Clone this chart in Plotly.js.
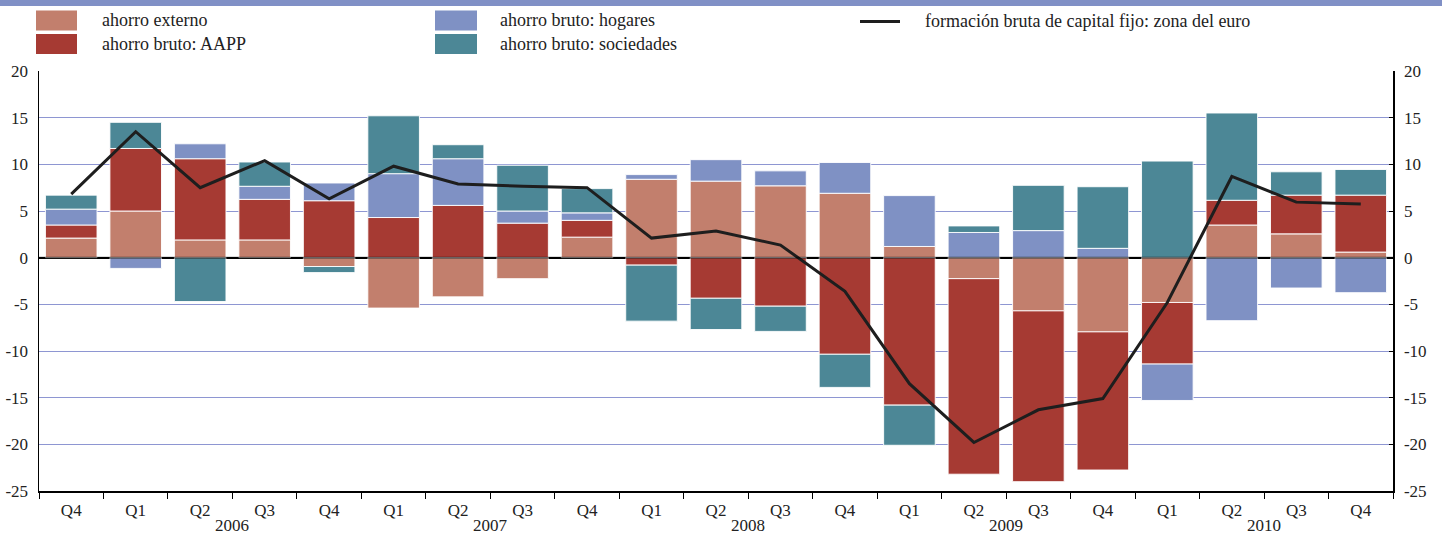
<!DOCTYPE html>
<html>
<head>
<meta charset="utf-8">
<script src="https://cdn.plot.ly/plotly-3.0.1.min.js"></script>
<style>html,body{margin:0;padding:0;background:#fff;}#chart{width:1442px;height:536px;}</style>
</head>
<body>
<div id="chart"></div>
<script>
// ---- data (percentages) ----
const quarters = ['Q4','Q1','Q2','Q3','Q4','Q1','Q2','Q3','Q4','Q1','Q2','Q3','Q4','Q1','Q2','Q3','Q4','Q1','Q2','Q3','Q4'];
const years = ['2005','2006','2006','2006','2006','2007','2007','2007','2007','2008','2008','2008','2008','2009','2009','2009','2009','2010','2010','2010','2010'];
const yearLabels = ['2006','2007','2008','2009','2010'];

const ahorroExterno = [2.1, 5.0, 1.9, 1.9, -0.95, -5.4, -4.2, -2.25, 2.2, 8.4, 8.2, 7.7, 6.9, 1.2, -2.25, -5.7, -7.95, -4.8, 3.5, 2.55, 0.6];
const ahorroAAPP = [1.4, 6.7, 8.7, 4.35, 6.1, 4.3, 5.6, 3.7, 1.8, -0.8, -4.35, -5.2, -10.35, -15.8, -20.95, -18.3, -14.8, -6.6, 2.65, 4.15, 6.1];
const ahorroHogares = [1.7, -1.15, 1.6, 1.4, 1.9, 4.7, 5.0, 1.3, 0.8, 0.5, 2.3, 1.6, 3.3, 5.45, 2.7, 2.9, 1.0, -3.9, -6.75, -3.25, -3.75];
const ahorroSociedades = [1.5, 2.8, -4.7, 2.6, -0.65, 6.2, 1.5, 4.9, 2.6, -6.0, -3.35, -2.7, -3.55, -4.3, 0.7, 4.85, 6.6, 10.35, 9.35, 2.5, 2.75];
const fbcfZonaEuro = [6.8, 13.5, 7.5, 10.4, 6.3, 9.8, 7.9, 7.65, 7.5, 2.1, 2.85, 1.35, -3.6, -13.5, -19.8, -16.3, -15.1, -4.8, 8.7, 5.95, 5.75];

const yTicks = [20, 15, 10, 5, 0, -5, -10, -15, -20, -25];

// ---- styling ----
const C_EXT = '#C27F6D', C_AAPP = '#A63A33', C_HOG = '#7F91C4', C_SOC = '#4C8796';
const FONT = "'Liberation Serif', 'Times New Roman', serif";
const W = 1442, H = 536;
const M = {l: 39, r: 49, t: 71, b: 45};
const PW = W - M.l - M.r, PH = H - M.t - M.b;
const px = v => (v - M.l) / PW;       // pixel -> paper x
const py = v => (H - M.b - v) / PH;   // pixel -> paper y

const idx = quarters.map((_, i) => i);
const barLine = {color: 'rgba(255,255,255,0.9)', width: 1};

function barTrace(name, values, color) {
  return {type: 'bar', name: name, x: idx, y: values, marker: {color: color, line: barLine},
          showlegend: false, hoverinfo: 'skip'};
}

const traces = [
  barTrace('ahorro externo', ahorroExterno, C_EXT),
  barTrace('ahorro bruto: AAPP', ahorroAAPP, C_AAPP),
  barTrace('ahorro bruto: hogares', ahorroHogares, C_HOG),
  barTrace('ahorro bruto: sociedades', ahorroSociedades, C_SOC),
  {type: 'scatter', mode: 'lines', name: 'formación bruta de capital fijo: zona del euro',
   x: idx, y: fbcfZonaEuro, yaxis: 'y2', line: {color: '#1E1E1E', width: 3},
   showlegend: false, hoverinfo: 'skip'}
];

// year labels under the quarters
const annotations = yearLabels.map(y => {
  const ii = idx.filter(i => years[i] === y);
  const xc = ii.reduce((a, b) => a + b, 0) / ii.length;
  return {x: xc, xref: 'x', y: py(525.5), yref: 'paper', text: y, showarrow: false,
          yanchor: 'middle', xanchor: 'center', font: {family: FONT, size: 17, color: '#222'}};
});

// custom legend (boxes + labels)
const legendItems = [
  {kind: 'box', color: C_EXT, text: 'ahorro externo', x0: 36, x1: 77, yc: 20.5, tx: 100},
  {kind: 'box', color: C_AAPP, text: 'ahorro bruto: AAPP', x0: 36, x1: 77, yc: 44, tx: 100},
  {kind: 'box', color: C_HOG, text: 'ahorro bruto: hogares', x0: 435, x1: 477, yc: 20.5, tx: 498},
  {kind: 'box', color: C_SOC, text: 'ahorro bruto: sociedades', x0: 435, x1: 477, yc: 44, tx: 498},
  {kind: 'line', color: '#1E1E1E', text: 'formación bruta de capital fijo: zona del euro', x0: 860, x1: 900, yc: 21.5, tx: 923}
];
const shapes = [
  // top band
  {type: 'rect', xref: 'paper', yref: 'paper', x0: px(0), x1: px(W), y0: py(6), y1: py(0),
   fillcolor: '#8090C6', line: {width: 0}, layer: 'above'},
  // zero line overlay (darkens across bars)
  {type: 'line', xref: 'paper', yref: 'y', x0: 0, x1: 1, y0: 0, y1: 0,
   line: {color: 'rgba(0,0,0,0.55)', width: 2}, layer: 'above'}
];
legendItems.forEach(it => {
  if (it.kind === 'box') {
    shapes.push({type: 'rect', xref: 'paper', yref: 'paper', x0: px(it.x0), x1: px(it.x1),
                 y0: py(it.yc + 10), y1: py(it.yc - 10), fillcolor: it.color, line: {width: 0}});
  } else {
    shapes.push({type: 'line', xref: 'paper', yref: 'paper', x0: px(it.x0), x1: px(it.x1),
                 y0: py(it.yc), y1: py(it.yc), line: {color: it.color, width: 3}});
  }
  annotations.push({x: px(it.tx), y: py(it.yc), xref: 'paper', yref: 'paper', text: it.text,
                    showarrow: false, xanchor: 'left', yanchor: 'middle',
                    font: {family: FONT, size: 18, color: '#222'}});
});

const boundaries = idx.map(i => i - 0.5).concat([idx.length - 0.5]);

const yCommon = {
  range: [-25, 20], tickmode: 'array', tickvals: yTicks, ticktext: yTicks.map(String),
  tickfont: {family: FONT, size: 17, color: '#222'}, showline: true, linecolor: '#000',
  linewidth: 1.5, fixedrange: true
};

const layout = {
  width: W, height: H,
  margin: M,
  paper_bgcolor: '#fff', plot_bgcolor: '#fff',
  barmode: 'relative', bargap: 0.2,
  font: {family: FONT, size: 17, color: '#222'},
  xaxis: {
    range: [-0.5, 20.5], tickmode: 'array', tickvals: idx, ticktext: quarters,
    ticks: '', showgrid: false, zeroline: false, showline: true, linecolor: '#000', linewidth: 2,
    tickfont: {family: FONT, size: 17, color: '#222'}, ticklabelstandoff: 3,
    minor: {tickmode: 'array', tickvals: boundaries, ticks: 'outside', ticklen: 6,
            tickcolor: '#000', tickwidth: 1, showgrid: false},
    fixedrange: true
  },
  yaxis: Object.assign({}, yCommon, {
    side: 'left', showgrid: true, gridcolor: '#8E96D2', gridwidth: 1,
    zeroline: true, zerolinecolor: '#000', zerolinewidth: 2, ticks: '', ticklabelstandoff: 6
  }),
  yaxis2: Object.assign({}, yCommon, {
    side: 'right', overlaying: 'y', showgrid: false, zeroline: false,
    ticks: 'inside', ticklen: 4, tickcolor: '#000', ticklabelstandoff: 6
  }),
  shapes: shapes,
  annotations: annotations,
  showlegend: false
};

Plotly.newPlot('chart', traces, layout, {displayModeBar: false, staticPlot: true});
</script>
</body>
</html>
